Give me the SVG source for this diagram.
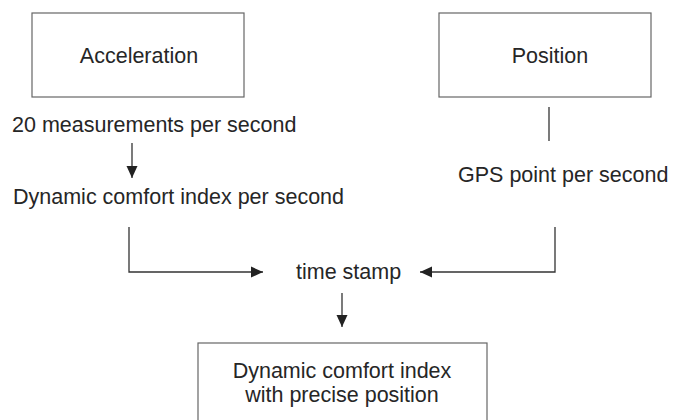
<svg xmlns="http://www.w3.org/2000/svg" width="675" height="420" viewBox="0 0 675 420">
<style>
.box{fill:#fff;stroke:#666;stroke-width:1.2}
.t{font-family:"Liberation Sans",Arial,sans-serif;font-size:21.5px;fill:#262626}
.m{text-anchor:middle}
.ln{fill:none;stroke:#333;stroke-width:1.3}
.ar{marker-end:url(#ah)}
</style>
<defs>
<marker id="ah" markerUnits="userSpaceOnUse" markerWidth="12" markerHeight="12" viewBox="0 0 12 12" refX="12" refY="6" orient="auto">
<path d="M0,0.5 L12,6 L0,11.5 Z" fill="#222"/>
</marker>
</defs>
<rect width="675" height="420" fill="#fff"/>
<g id="acceleration">
<rect class="box" x="32" y="13" width="212" height="84"/>
<text class="t m" x="139" y="63">Acceleration</text>
</g>
<g id="position">
<rect class="box" x="439" y="13" width="212" height="84"/>
<text class="t m" x="550" y="63">Position</text>
</g>
<g id="measurements">
<text class="t" x="12" y="132">20 measurements per second</text>
</g>
<g id="dci-per-second">
<text class="t" x="13" y="204">Dynamic comfort index per second</text>
</g>
<g id="gps">
<text class="t" x="458" y="182">GPS point per second</text>
</g>
<g id="timestamp">
<text class="t" x="296" y="279">time stamp</text>
</g>
<g id="result">
<rect class="box" x="198" y="343" width="289" height="90"/>
<text class="t m" x="342" y="378">Dynamic comfort index</text>
<text class="t m" x="342" y="402">with precise position</text>
</g>
<g id="connectors">
<line class="ln ar" x1="132" y1="143" x2="132" y2="178"/>
<line class="ln" x1="549" y1="107" x2="549" y2="141"/>
<polyline class="ln ar" points="129,227 129,272 263,272"/>
<polyline class="ln ar" points="555,227 555,272 420,272"/>
<line class="ln ar" x1="342" y1="293" x2="342" y2="327"/>
</g>
</svg>
